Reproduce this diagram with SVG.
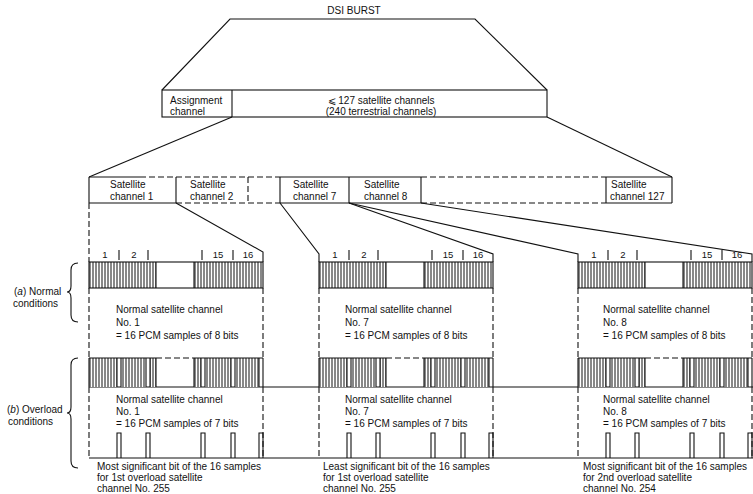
<svg xmlns="http://www.w3.org/2000/svg" xmlns:xlink="http://www.w3.org/1999/xlink" width="753" height="494" viewBox="0 0 753 494">
<style>
text{font-family:"Liberation Sans",Arial,sans-serif;font-size:10px;fill:#111}
.s{fill:none;stroke:#111;stroke-width:1.1}
.d{fill:none;stroke:#111;stroke-width:1.1;stroke-dasharray:6 3}
.w{fill:#fff;stroke:#111;stroke-width:1.1}
.n{font-size:9.5px}
</style>
<defs>
<pattern id="hatch" width="3" height="40" patternUnits="userSpaceOnUse">
<rect width="3" height="40" fill="#fff"/>
<line x1="1" y1="0" x2="1" y2="40" stroke="#111" stroke-width="1"/>
</pattern>
<g id="colT">
<!-- normal row -->
<rect x="0" y="262" width="67" height="26" fill="url(#hatch)"/>
<rect x="105" y="262" width="69" height="26" fill="url(#hatch)"/>
<rect class="s" x="0" y="262" width="174" height="26"/>
<path class="s" d="M67,262V288M105,262V288"/>
<path class="s" d="M30,250V260M59,250V260M113,250V260M144,250V260"/>
<!-- dashed sides -->
<path class="d" d="M0,288V358M174,288V358M0,387V458M174,387V458"/>
<!-- overload row -->
<rect x="0" y="358" width="28" height="29" fill="url(#hatch)"/>
<rect x="32" y="358" width="25" height="29" fill="url(#hatch)"/>
<rect x="61" y="358" width="6" height="29" fill="url(#hatch)"/>
<rect x="105" y="358" width="7" height="29" fill="url(#hatch)"/>
<rect x="116" y="358" width="26" height="29" fill="url(#hatch)"/>
<rect x="146" y="358" width="24" height="29" fill="url(#hatch)"/>
<path class="s" d="M0,358H67M105,358H174M0,358V387M174,358V387M67,358V387M105,358V387M28,358V387M32,358V387M57,358V387M61,358V387M112,358V387M116,358V387M142,358V387M146,358V387M170,358V387"/>
<path class="d" d="M67,358H105"/>
<!-- overload bit pulses -->
<path class="s" d="M28,458V433H32V458M57,458V433H61V458M112,458V433H116V458M142,458V433H146V458M170,458V433H174V458"/>
</g>
</defs>
<rect width="753" height="494" fill="#fff"/>

<g id="burst">
<text x="354" y="14" text-anchor="middle">DSI BURST</text>
<path class="s" d="M162,90L230,19H475L547,90"/>
</g>

<g id="burst-frame">
<rect class="s" x="162" y="90" width="385" height="27"/>
<line class="s" x1="232" y1="90" x2="232" y2="117"/>
<text x="170" y="104">Assignment</text>
<text x="170" y="115">channel</text>
<text x="381" y="104" text-anchor="middle">⩽ 127 satellite channels</text>
<text x="381" y="115" text-anchor="middle">(240 terrestrial channels)</text>
</g>

<g id="satellite-row">
<path class="s" d="M89,177H140M280,177H421M606,177H672M89,203H176M280,203H421M606,203H672"/>
<path class="d" d="M140,177H280M421,177H606M176,203H280M421,203H606"/>
<path class="s" d="M89,177V203M176,177V203M280,177V203M349,177V203M421,177V203M606,177V203M672,177V203"/>
<path class="d" d="M248,177V203"/>
<text x="110" y="188">Satellite</text><text x="110" y="200">channel 1</text>
<text x="190" y="188">Satellite</text><text x="190" y="200">channel 2</text>
<text x="293" y="188">Satellite</text><text x="293" y="200">channel 7</text>
<text x="364" y="188">Satellite</text><text x="364" y="200">channel 8</text>
<text x="611" y="188">Satellite</text><text x="610" y="200">channel 127</text>
</g>

<g id="connectors">
<path class="s" d="M232,117L89,177"/>
<path class="s" d="M547,117L672,177"/>
<path class="d" d="M89,203V262"/>
<path class="s" d="M176,203L263,252V262"/>
<path class="s" d="M280,203L319,254V262"/>
<path class="s" d="M349,203L493,254V262"/>
<path class="s" d="M349,203L578,254V262"/>
<path class="s" d="M421,203L752,254V262"/>
<path class="s" d="M89,387H753M89,458H753"/>
</g>

<g id="col1">
<use xlink:href="#colT" href="#colT" x="89"/>
<text class="n" x="105" y="258" text-anchor="middle">1</text>
<text class="n" x="134" y="258" text-anchor="middle">2</text>
<text class="n" x="218" y="258" text-anchor="middle">15</text>
<text class="n" x="248" y="258" text-anchor="middle">16</text>
<text x="116" y="313">Normal satellite channel</text>
<text x="116" y="326">No. 1</text>
<text x="116" y="339">= 16 PCM samples of 8 bits</text>
<text x="116" y="403">Normal satellite channel</text>
<text x="116" y="415">No. 1</text>
<text x="116" y="427">= 16 PCM samples of 7 bits</text>
<text x="97" y="470">Most significant bit of the 16 samples</text>
<text x="97" y="481">for 1st overload satellite</text>
<text x="97" y="492">channel No. 255</text>
</g>

<g id="col2">
<use xlink:href="#colT" href="#colT" x="319"/>
<text class="n" x="335" y="258" text-anchor="middle">1</text>
<text class="n" x="364" y="258" text-anchor="middle">2</text>
<text class="n" x="448" y="258" text-anchor="middle">15</text>
<text class="n" x="478" y="258" text-anchor="middle">16</text>
<text x="345" y="313">Normal satellite channel</text>
<text x="345" y="326">No. 7</text>
<text x="345" y="339">= 16 PCM samples of 8 bits</text>
<text x="345" y="403">Normal satellite channel</text>
<text x="345" y="415">No. 7</text>
<text x="345" y="427">= 16 PCM samples of 7 bits</text>
<text x="323" y="470">Least significant bit of the 16 samples</text>
<text x="323" y="481">for 1st overload satellite</text>
<text x="323" y="492">channel No. 255</text>
</g>

<g id="col3">
<use xlink:href="#colT" href="#colT" x="578"/>
<text class="n" x="594" y="258" text-anchor="middle">1</text>
<text class="n" x="623" y="258" text-anchor="middle">2</text>
<text class="n" x="707" y="258" text-anchor="middle">15</text>
<text class="n" x="737" y="258" text-anchor="middle">16</text>
<text x="603" y="313">Normal satellite channel</text>
<text x="603" y="326">No. 8</text>
<text x="603" y="339">= 16 PCM samples of 8 bits</text>
<text x="603" y="403">Normal satellite channel</text>
<text x="603" y="415">No. 8</text>
<text x="603" y="427">= 16 PCM samples of 7 bits</text>
<text x="583" y="470">Most significant bit of the 16 samples</text>
<text x="583" y="481">for 2nd overload satellite</text>
<text x="583" y="492">channel No. 254</text>
</g>

<g id="label-normal">
<text x="14" y="295">(<tspan font-style="italic">a</tspan>) Normal</text>
<text x="13" y="307">conditions</text>
<path class="s" d="M78,263Q71,263 71,270V286Q71,292 67,292Q71,292 71,298V315Q71,322 78,322"/>
</g>

<g id="label-overload">
<text x="7" y="413">(<tspan font-style="italic">b</tspan>) Overload</text>
<text x="8" y="425">conditions</text>
<path class="s" d="M78,358Q71,358 71,365V407Q71,413 67,413Q71,413 71,419V461Q71,468 78,468"/>
</g>
</svg>
